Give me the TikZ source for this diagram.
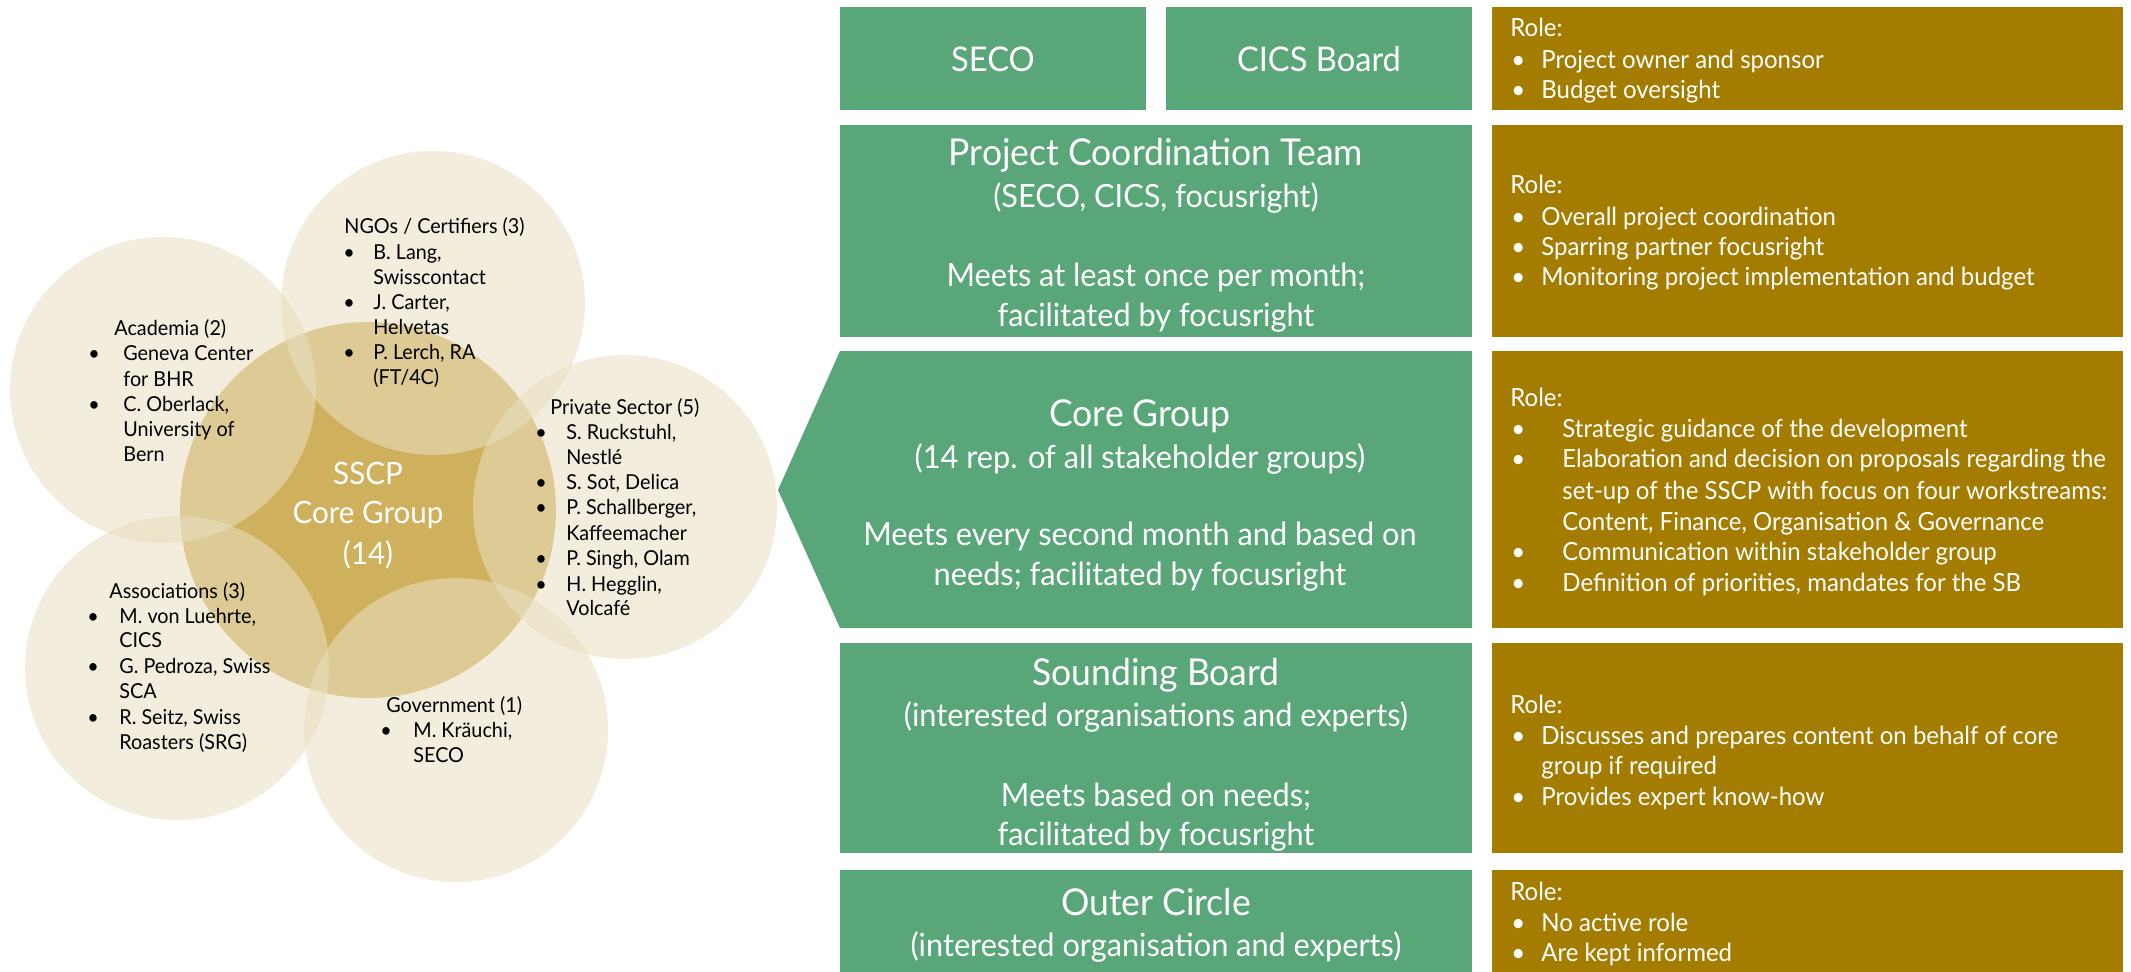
\documentclass[tikz,border=0pt]{standalone}
\usepackage{fontspec}
\setmainfont{Lato}[FakeStretch=0.96]
\definecolor{sgreen}{RGB}{89,166,120}
\definecolor{sbrown}{RGB}{163,124,0}
\definecolor{corec}{RGB}{207,176,92}
\definecolor{outerc}{RGB}{232,223,193}
\newcommand\bul[1]{\makebox[#1pt][l]{\textbullet}}
\begin{document}
\begin{tikzpicture}[x=0.5pt,y=-0.5pt,
  outer/.style={fill=outerc, fill opacity=0.56, draw=none},
  ctext/.style={font=\fontsize{10.3}{12.5}\selectfont, text=black, inner sep=0pt, anchor=mid west, yshift=-1pt},
  btext/.style={font=\fontsize{12.5}{15}\selectfont, text=white, inner sep=0pt, anchor=mid west, yshift=-1.5pt},
  gtitle/.style={font=\fontsize{18.5}{20}\selectfont, text=white, inner sep=0pt, anchor=mid, yshift=-4pt},
  ghead/.style={font=\fontsize{17}{20}\selectfont, text=white, inner sep=0pt, anchor=mid, yshift=-3.5pt},
  gbody/.style={font=\fontsize{16}{20}\selectfont, text=white, inner sep=0pt, anchor=mid, yshift=-4pt},
  coret/.style={font=\fontsize{15.4}{20}\selectfont, text=white, inner sep=0pt, anchor=mid, yshift=-3pt},
]
\useasboundingbox (0,0) rectangle (2131,971);
\fill[white] (0,0) rectangle (2131,971);

% ---------- circles ----------
\fill[corec] (368,510) circle (188);
\fill[outer] (163,390) circle (153);
\fill[outer] (433,303) circle (152);
\fill[outer] (625,507) circle (152);
\fill[outer] (177,668) circle (152);
\fill[outer] (456,730) circle (152);

% core text
\node[coret] (c1) at (368,473) {SSCP};
\node[coret] (c2) at (368,512) {Core Group};
\node[coret] (c3) at (368,553) {(14)};

% Academia
\node[ctext] (a0) at (114,328) {Academia (2)};
\node[ctext] (a1) at (88,353) {\bul{17.5}Geneva Center};
\node[ctext] (a2) at (123,379) {for BHR};
\node[ctext] (a3) at (88,404) {\bul{17.5}C. Oberlack,};
\node[ctext] (a4) at (123,429) {University of};
\node[ctext] (a5) at (123,454) {Bern};

% NGOs
\node[ctext] (n0) at (344,226) {NGOs / Certifiers (3)};
\node[ctext] (n1) at (343,252) {\bul{15}B. Lang,};
\node[ctext] (n2) at (373,277) {Swisscontact};
\node[ctext] (n3) at (343,302) {\bul{15}J. Carter,};
\node[ctext] (n4) at (373,327) {Helvetas};
\node[ctext] (n5) at (343,352) {\bul{15}P. Lerch, RA};
\node[ctext] (n6) at (373,377) {(FT/4C)};

% Private sector
\node[ctext] (p0) at (550,407) {Private Sector (5)};
\node[ctext] (p1) at (535,432) {\bul{15.5}S. Ruckstuhl,};
\node[ctext] (p2) at (566,457) {Nestlé};
\node[ctext] (p3) at (535,482) {\bul{15.5}S. Sot, Delica};
\node[ctext] (p4) at (535,507) {\bul{15.5}P. Schallberger,};
\node[ctext] (p5) at (566,533) {Kaffeemacher};
\node[ctext] (p6) at (535,558) {\bul{15.5}P. Singh, Olam};
\node[ctext] (p7) at (535,584) {\bul{15.5}H. Hegglin,};
\node[ctext] (p8) at (566,608) {Volcafé};

% Associations
\node[ctext] (s0) at (109,591) {Associations (3)};
\node[ctext] (s1) at (87,616) {\bul{16}M. von Luehrte,};
\node[ctext] (s2) at (119,640) {CICS};
\node[ctext] (s3) at (87,666) {\bul{16}G. Pedroza, Swiss};
\node[ctext] (s4) at (119,691) {SCA};
\node[ctext] (s5) at (87,717) {\bul{16}R. Seitz, Swiss};
\node[ctext] (s6) at (119,742) {Roasters (SRG)};

% Government
\node[ctext] (v0) at (386,705) {Government (1)};
\node[ctext] (v1) at (380,730) {\bul{16.5}M. Kräuchi,};
\node[ctext] (v2) at (413,755) {SECO};

% ---------- green boxes ----------
\fill[sgreen] (840,7) rectangle (1146,110);
\fill[sgreen] (1166,7) rectangle (1472,110);
\fill[sgreen] (840,125) rectangle (1472,337);
\fill[sgreen] (778,490) -- (840,351) -- (1472,351) -- (1472,628) -- (840,628) -- cycle;
\fill[sgreen] (840,643) rectangle (1472,853);
\fill[sgreen] (840,870) rectangle (1472,1000);

\node[ghead] (seco) at (993,59) {SECO};
\node[ghead] (cics) at (1319,59) {CICS Board};

\node[gtitle] (g1) at (1156,152) {Project Coordination Team};
\node[gbody] (g2) at (1156,194) {(SECO, CICS, focusright)};
\node[gbody] (g3) at (1156,273) {Meets at least once per month;};
\node[gbody] (g4) at (1156,313) {facilitated by focusright};

\node[gtitle] (k1) at (1140,413) {Core Group};
\node[gbody] (k2) at (1140,455) {(14 rep. of all stakeholder groups)};
\node[gbody] (k3) at (1140,532) {Meets every second month and based on};
\node[gbody] (k4) at (1140,572) {needs; facilitated by focusright};

\node[gtitle] (b1) at (1156,672) {Sounding Board};
\node[gbody] (b2) at (1156,713) {(interested organisations and experts)};
\node[gbody] (b3) at (1156,793) {Meets based on needs;};
\node[gbody] (b4) at (1156,832) {facilitated by focusright};

\node[gtitle] (o1) at (1156,902) {Outer Circle};
\node[gbody] (o2) at (1156,943) {(interested organisation and experts)};

% ---------- brown boxes ----------
\fill[sbrown] (1492,7) rectangle (2123,110);
\fill[sbrown] (1492,125) rectangle (2123,337);
\fill[sbrown] (1492,351) rectangle (2123,628);
\fill[sbrown] (1492,643) rectangle (2123,853);
\fill[sbrown] (1492,870) rectangle (2123,1000);

\node[btext] (r10) at (1510,28) {Role:};
\node[btext] (r11) at (1511,60) {\bul{15}Project owner and sponsor};
\node[btext] (r12) at (1511,90) {\bul{15}Budget oversight};

\node[btext] (r20) at (1510,185) {Role:};
\node[btext] (r21) at (1511,217) {\bul{15}Overall project coordination};
\node[btext] (r22) at (1511,247) {\bul{15}Sparring partner focusright};
\node[btext] (r23) at (1511,277) {\bul{15}Monitoring project implementation and budget};

\node[btext] (r30) at (1510,398) {Role:};
\node[btext] (r31) at (1511,429) {\bul{25.5}Strategic guidance of the development};
\node[btext] (r32) at (1511,459) {\bul{25.5}Elaboration and decision on proposals regarding the};
\node[btext] (r33) at (1562,491) {set-up of the SSCP with focus on four workstreams:};
\node[btext] (r34) at (1562,522) {Content, Finance, Organisation \& Governance};
\node[btext] (r35) at (1511,552) {\bul{25.5}Communication within stakeholder group};
\node[btext] (r36) at (1511,583) {\bul{25.5}Definition of priorities, mandates for the SB};

\node[btext] (r40) at (1510,705) {Role:};
\node[btext] (r41) at (1511,736) {\bul{15}Discusses and prepares content on behalf of core};
\node[btext] (r42) at (1541,766) {group if required};
\node[btext] (r43) at (1511,797) {\bul{15}Provides expert know-how};

\node[btext] (r50) at (1510,892) {Role:};
\node[btext] (r51) at (1511,923) {\bul{15}No active role};
\node[btext] (r52) at (1511,953) {\bul{15}Are kept informed};
\end{tikzpicture}
\end{document}
